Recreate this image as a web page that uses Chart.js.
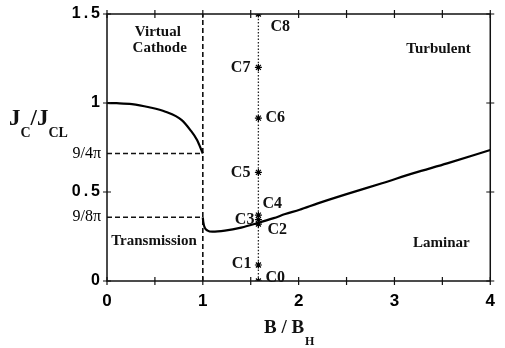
<!DOCTYPE html>
<html>
<head>
<meta charset="UTF-8">
<title>Jc/JCL vs B/BH</title>
<script src="https://cdn.jsdelivr.net/npm/chart.js"></script>
<style>
  html, body { margin: 0; padding: 0; background: #fff; }
  canvas { display: block; }
</style>
</head>
<body>
<canvas id="grafico" width="505" height="348"></canvas>
<script>
const PI = Math.PI;

// virtual cathode branch (B/BH < 1)
const vcX = [0, 0.1, 0.26, 0.44, 0.61, 0.78, 0.87, 0.94, 1.0];
const vcY = [1.0, 0.999, 0.994, 0.976, 0.951, 0.904, 0.848, 0.792, 0.716];

// transmission / laminar branch (B/BH >= 1)
const lamX = [1.0, 1.005, 1.02, 1.05, 1.1, 1.23, 1.4, 1.57, 1.74, 1.86, 2.01, 2.2, 2.5, 2.87, 3.2, 3.55, 4.0];
const lamY = [0.358, 0.33, 0.3, 0.283, 0.277, 0.283, 0.3, 0.325, 0.353, 0.376, 0.40, 0.436, 0.488, 0.549, 0.606, 0.661, 0.736];

// simulation cases along B/BH = 1.58
const scanB = 1.58;
const caseNames = ['C0', 'C1', 'C2', 'C3', 'C4', 'C5', 'C6', 'C7', 'C8'];
const caseY = [0, 0.09, 0.32, 0.345, 0.37, 0.61, 0.915, 1.2, 1.5];

// axes
const xTickValues = [0, 1, 2, 3, 4];
const xTickLabels = ['0', '1', '2', '3', '4'];
const yTickValues = [0, 0.5, 1, 1.5];
const yTickLabels = ['0', '0.5', '1', '1.5'];
const yLimitValues = [9 / (8 * PI), 9 / (4 * PI)];
const yLimitLabels = ['9/8π', '9/4π'];

// label offsets for the case names (px from the marker)
const caseLabelOffset = [[7, -3], [-7, -1], [9, 6], [-4, 0], [4, -11], [-8, 0], [7, 0], [-8, 0], [12, 13]];

// region names, in data coordinates
const regionNotes = [
  { text: 'Virtual', x: 0.53, y: 1.40 },
  { text: 'Cathode', x: 0.55, y: 1.31 },
  { text: 'Turbulent', x: 3.46, y: 1.30 },
  { text: 'Laminar', x: 3.49, y: 0.21 },
  { text: 'Transmission', x: 0.49, y: 0.225 }
];

const SERIF = '"Liberation Serif", "DejaVu Serif", serif';
const SANS = '"Liberation Sans", Arial, sans-serif';
const limitFont = { family: SERIF, size: 16, weight: 'normal' };

// width of the widest π label, so the mirrored axis can right-align it
const measure = document.createElement('canvas').getContext('2d');
measure.font = 'normal ' + limitFont.size + 'px ' + limitFont.family;
const limitLabelWidth = Math.max(...yLimitLabels.map(t => measure.measureText(t).width));

const pts = (xs, ys) => xs.map((x, i) => ({ x: x, y: ys[i] }));

const dashedGuide = (data) => ({
  data: data,
  showLine: true,
  borderColor: '#111',
  borderWidth: 1.6,
  borderDash: [5, 3],
  pointRadius: 0,
  order: 3
});

const frame = {
  id: 'frame',
  beforeDraw(chart) {
    // spaced-out numerals on the main y axis
    chart.ctx.letterSpacing = '3px';
  },
  afterDatasetsDraw(chart) {
    chart.ctx.letterSpacing = '0px';
  },
  afterDraw(chart) {
    const ctx = chart.ctx;
    const a = chart.chartArea;
    const xs = chart.scales.x, ys = chart.scales.y;
    ctx.save();
    ctx.letterSpacing = '0px';
    ctx.strokeStyle = '#111';
    ctx.lineWidth = 1.5;
    ctx.strokeRect(a.left, a.top, a.right - a.left, a.bottom - a.top);

    // crossing tick marks every 0.5 on all four sides
    ctx.lineWidth = 1.2;
    ctx.beginPath();
    for (let v = 0; v <= 4.001; v += 0.5) {
      const px = xs.getPixelForValue(v);
      ctx.moveTo(px, a.bottom - 4); ctx.lineTo(px, a.bottom + 4);
      ctx.moveTo(px, a.top - 4); ctx.lineTo(px, a.top + 4);
    }
    for (let v = 0; v <= 1.501; v += 0.5) {
      const py = ys.getPixelForValue(v);
      ctx.moveTo(a.left - 4, py); ctx.lineTo(a.left + 4, py);
      ctx.moveTo(a.right - 4, py); ctx.lineTo(a.right + 4, py);
    }
    ctx.stroke();

    ctx.fillStyle = '#111';
    // case labels next to their markers
    const meta = chart.getDatasetMeta(3);
    ctx.font = 'bold 16px ' + SERIF;
    ctx.textBaseline = 'middle';
    meta.data.forEach((p, i) => {
      const off = caseLabelOffset[i];
      ctx.textAlign = off[0] < 0 ? 'right' : 'left';
      ctx.fillText(caseNames[i], p.x + off[0], p.y + off[1]);
    });

    // region names
    ctx.textAlign = 'center';
    ctx.font = 'bold 15px ' + SERIF;
    regionNotes.forEach(n => {
      ctx.fillText(n.text, xs.getPixelForValue(n.x), ys.getPixelForValue(n.y));
    });

    // axis titles with subscripts
    ctx.textBaseline = 'alphabetic';
    ctx.textAlign = 'left';
    let x = 9;
    const put = (t, size, base) => {
      ctx.font = 'bold ' + size + 'px ' + SERIF;
      ctx.fillText(t, x, base);
      x += ctx.measureText(t).width;
    };
    put('J', 23, 125); put('C', 14, 137); put('/', 23, 125); put('J', 23, 125); put('CL', 14, 137);

    x = 264;
    put('B / B', 19, 333); x += 1; put('H', 12, 345);
    ctx.restore();
  }
};

new Chart(document.getElementById('grafico'), {
  type: 'scatter',
  data: {
    datasets: [
      {
        data: pts(vcX, vcY),
        showLine: true,
        borderColor: '#000',
        borderWidth: 2.2,
        pointRadius: 0,
        cubicInterpolationMode: 'monotone',
        order: 1
      },
      {
        data: pts(lamX, lamY),
        showLine: true,
        borderColor: '#000',
        borderWidth: 2.2,
        pointRadius: 0,
        cubicInterpolationMode: 'monotone',
        order: 1
      },
      dashedGuide([{ x: 1, y: 0 }, { x: 1, y: 1.5 }]),
      {
        data: caseY.map(y => ({ x: scanB, y: y })),
        showLine: true,
        borderColor: '#222',
        borderWidth: 1.3,
        borderDash: [1.5, 1.8],
        pointStyle: 'star',
        pointRadius: 3.5,
        pointBorderWidth: 1.2,
        pointBorderColor: '#000',
        pointBackgroundColor: '#000',
        order: 2
      },
      dashedGuide([{ x: 0, y: yLimitValues[1] }, { x: 1, y: yLimitValues[1] }]),
      dashedGuide([{ x: 0, y: yLimitValues[0] }, { x: 1, y: yLimitValues[0] }])
    ]
  },
  options: {
    responsive: false,
    animation: false,
    devicePixelRatio: 1,
    layout: { padding: { top: 14, right: 5, left: 0, bottom: 0 } },
    plugins: { legend: { display: false }, tooltip: { enabled: false } },
    scales: {
      x: {
        type: 'linear',
        min: 0,
        max: 4,
        afterBuildTicks: s => { s.ticks = xTickValues.map(v => ({ value: v })); },
        afterFit: s => { s.height = 67; },
        grid: { display: false, drawTicks: false },
        border: { display: false },
        ticks: {
          z: 1,
          autoSkip: false,
          maxRotation: 0,
          padding: 10,
          color: '#000',
          font: { family: SANS, size: 17, weight: 'bold' },
          callback: (v, i) => xTickLabels[i]
        }
      },
      y: {
        type: 'linear',
        position: 'left',
        weight: 1,
        min: 0,
        max: 1.5,
        afterBuildTicks: s => { s.ticks = yTickValues.map(v => ({ value: v })); },
        afterFit: s => { s.width = 107; },
        grid: { display: false, drawTicks: false },
        border: { display: false },
        ticks: {
          autoSkip: false,
          padding: 4,
          color: '#000',
          font: { family: SANS, size: 16, weight: 'bold' },
          callback: (v, i) => yTickLabels[i]
        }
      },
      // zero-width inner axis carrying the 9/8π and 9/4π marks
      yLimits: {
        type: 'linear',
        position: 'left',
        weight: 0,
        min: 0,
        max: 1.5,
        afterBuildTicks: s => { s.ticks = yLimitValues.map(v => ({ value: v })); },
        afterFit: s => { s.width = 0; },
        grid: { display: false, drawTicks: false },
        border: { display: false },
        ticks: {
          z: 1,
          mirror: true,
          crossAlign: 'far',
          autoSkip: false,
          padding: -(6 + limitLabelWidth),
          color: '#000',
          font: limitFont,
          callback: (v, i) => yLimitLabels[i]
        }
      }
    }
  },
  plugins: [frame]
});
</script>
</body>
</html>
